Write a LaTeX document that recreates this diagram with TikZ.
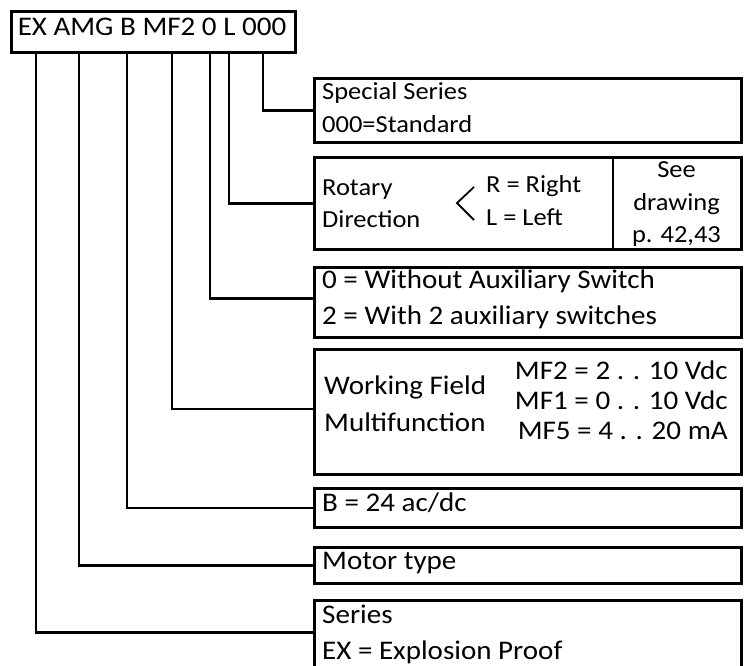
\documentclass[tikz,border=0pt]{standalone}
\usepackage{fontspec}
\setmainfont{Carlito}[FakeStretch=1.08]
\begin{document}
\begin{tikzpicture}[x=1pt,y=-1pt,
  frame/.style={draw=black,line width=2.6pt,inner sep=0pt,anchor=north west},
  conn/.style={draw=black,line width=2.6pt},
  big/.style={font=\fontsize{26.9}{31}\selectfont},
  mid/.style={font=\fontsize{24.5}{28}\selectfont},
  txt/.style={inner sep=0pt,anchor=base west},
  txtc/.style={inner sep=0pt,anchor=base},
  txte/.style={inner sep=0pt,anchor=base east}]
\useasboundingbox (0,0) rectangle (747,666);
% top code box
\node[frame,minimum width=284pt,minimum height=41pt] (code) at (10,10) {};
\node[txtc,big] (codet) at (152,36) {EX AMG B MF2 0 L 000};
% boxes
\node[frame,minimum width=427pt,minimum height=64pt] (b1) at (313,77) {};
\node[frame,minimum width=427pt,minimum height=92pt] (b2) at (313,156) {};
\node[frame,minimum width=427pt,minimum height=70pt] (b3) at (313,266) {};
\node[frame,minimum width=427pt,minimum height=125pt] (b4) at (313,348) {};
\node[frame,minimum width=427pt,minimum height=39pt] (b5) at (313,487) {};
\node[frame,minimum width=427pt,minimum height=36pt] (b6) at (313,546) {};
\node[frame,minimum width=427pt,minimum height=70pt] (b7) at (313,599) {};
% divider in rotary box
\coordinate (dv) at (613,156);
\draw[conn] (dv |- b2.north) -- (dv |- b2.south);
% texts
\node[txt,mid] (t1a) at (322,100) {Special Series};
\node[txt,mid] (t1b) at (322,133) {000=Standard};
\node[txt,mid] (t2a) at (322,195) {Rotary};
\node[txt,mid] (t2b) at (322,227) {Direction};
\node[txt,mid] (t2c) at (486,193) {R = Right};
\node[txt,mid] (t2d) at (486,225) {L = Left};
\coordinate (lt1) at (474,187);
\coordinate (lt2) at (457,203);
\coordinate (lt3) at (474,220);
\draw[line width=1.8pt] (lt1) -- (lt2) -- (lt3);
\node[txtc,mid] (t2e) at (676.5,178) {See};
\node[txtc,mid] (t2f) at (676.5,210) {drawing};
\node[txtc,mid] (t2g) at (676.5,242) {p. 42,43};
\node[txt,big] (t3a) at (322,288) {0 = Without Auxiliary Switch};
\node[txt,big] (t3b) at (322,324) {2 = With 2 auxiliary switches};
\node[txt,big] (t4a) at (324,394) {Working Field};
\node[txt,big] (t4b) at (324,431) {Multifunction};
\node[txte,big] (t4c) at (728,379) {MF2 = 2 . . 10 Vdc};
\node[txte,big] (t4d) at (728,409) {MF1 = 0 . . 10 Vdc};
\node[txte,big] (t4e) at (728,439) {MF5 = 4 . . 20 mA};
\node[txt,big] (t5) at (322,511) {B = 24 ac/dc};
\node[txt,big] (t6) at (322,569) {Motor type};
\node[txt,big] (t7a) at (322,623) {Series};
\node[txt,big] (t7b) at (322,659) {EX = Explosion Proof};
% connectors
\draw[conn] ([xshift=253pt]code.south west) |- (b1.west);
\draw[conn] ([xshift=219pt]code.south west) |- (b2.west);
\draw[conn] ([xshift=200pt]code.south west) |- ([yshift=4pt]b3.west);
\draw[conn] ([xshift=162pt]code.south west) |- ([yshift=3pt]b4.west);
\draw[conn] ([xshift=117pt]code.south west) |- (b5.west);
\draw[conn] ([xshift=69pt]code.south west) |- (b6.west);
\draw[conn] ([xshift=26pt]code.south west) |- ([yshift=3pt]b7.west);
\end{tikzpicture}
\end{document}
